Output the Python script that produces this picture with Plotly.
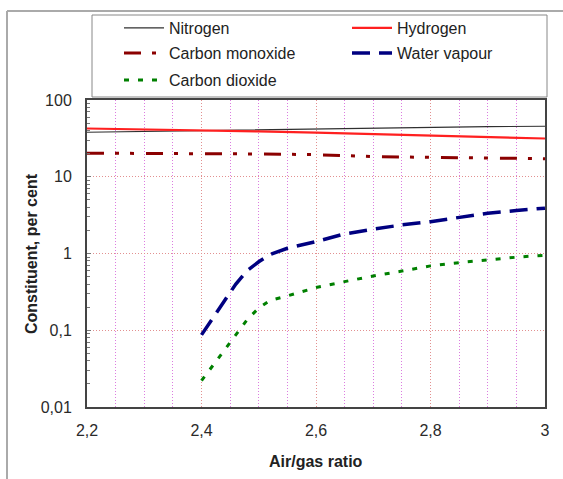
import plotly.graph_objects as go

# ---- data ----
x_full = [2.2, 2.3, 2.4, 2.5, 2.6, 2.7, 2.8, 2.9, 3.0]
nitrogen = [38.0, 39.0, 40.0, 41.0, 42.0, 43.0, 44.0, 45.0, 45.5]
hydrogen = [42.5, 41.5, 40.5, 39.0, 37.5, 36.0, 34.5, 33.0, 31.5]
carbon_monoxide = [20.3, 20.2, 20.0, 19.8, 19.4, 18.3, 17.9, 17.6, 17.2]

x_part = [2.4, 2.42, 2.44, 2.46, 2.48, 2.5, 2.52, 2.55, 2.6, 2.65, 2.7, 2.75,
          2.8, 2.85, 2.9, 2.95, 3.0]
water_vapour = [0.087, 0.145, 0.24, 0.4, 0.6, 0.78, 0.97, 1.17, 1.43, 1.8,
                2.07, 2.36, 2.6, 2.97, 3.35, 3.63, 3.9]
carbon_dioxide = [0.022, 0.035, 0.056, 0.089, 0.138, 0.195, 0.245, 0.28, 0.36,
                  0.43, 0.51, 0.59, 0.69, 0.76, 0.83, 0.895, 0.95]

x_ticks = [2.2, 2.4, 2.6, 2.8, 3.0]
x_ticktext = ["2,2", "2,4", "2,6", "2,8", "3"]
y_ticks = [0.01, 0.1, 1, 10, 100]
y_ticktext = ["0,01", "0,1", "1", "10", "100"]

# ---- layout geometry (pixels) ----
W, H = 563, 479
L, R, T, B = 87, 545, 100, 407
pw, ph = R - L, B - T

def px(xp):
    return (xp - L) / pw

def py(yp):
    return (B - yp) / ph

FONT = "Liberation Sans, Arial, sans-serif"

fig = go.Figure()
fig.add_trace(go.Scatter(x=x_full, y=nitrogen, mode="lines", name="Nitrogen",
                         line=dict(color="#303030", width=1.2), legend="legend"))
fig.add_trace(go.Scatter(x=x_full, y=hydrogen, mode="lines", name="Hydrogen",
                         line=dict(color="#ff2020", width=2.2), legend="legend"))
fig.add_trace(go.Scatter(x=x_full, y=carbon_monoxide, mode="lines", name="Carbon monoxide",
                         line=dict(color="#8b0000", width=3,
                                   dash="17px,11px,4px,11px,4px,12px"), legend="legend2"))
fig.add_trace(go.Scatter(x=x_part, y=water_vapour, mode="lines", name="Water vapour",
                         line=dict(color="#000080", width=3.5, dash="18px,9px"),
                         legend="legend2"))
fig.add_trace(go.Scatter(x=x_part, y=carbon_dioxide, mode="lines", name="Carbon dioxide",
                         line=dict(color="#008000", width=3, dash="5px,9px"),
                         legend="legend3"))

leg_common = dict(orientation="h", xanchor="left", yanchor="middle",
                  bgcolor="rgba(0,0,0,0)", borderwidth=0,
                  font=dict(family=FONT, size=16, color="#222"),
                  itemwidth=40, entrywidth=173, entrywidthmode="pixels",
                  itemclick=False, itemdoubleclick=False)

fig.update_layout(
    width=W, height=H,
    margin=dict(l=L, r=W - R, t=T, b=H - B, pad=0, autoexpand=False),
    paper_bgcolor="white", plot_bgcolor="white",
    showlegend=True,
    legend=dict(x=px(119), y=py(28), **leg_common),
    legend2=dict(x=px(119), y=py(53), **leg_common),
    legend3=dict(x=px(119), y=py(80), **leg_common),
    font=dict(family=FONT, size=16, color="#222"),
    xaxis=dict(
        range=[2.2, 3.0], tickvals=x_ticks, ticktext=x_ticktext,
        showgrid=True, gridcolor="#e29090", griddash="1px,2px", gridwidth=1,
        minor=dict(dtick=0.05, showgrid=True, gridcolor="#dc7ce0", griddash="1px,2px",
                   gridwidth=1, ticks=""),
        showline=True, linecolor="#444", linewidth=2, mirror=True,
        ticks="", zeroline=False, tickfont=dict(size=16, color="#2a2a2a"),
        ticklabelstandoff=8,
    ),
    yaxis=dict(
        type="log", range=[-2, 2], tickvals=y_ticks, ticktext=y_ticktext,
        showgrid=True, gridcolor="#e29090", griddash="1px,2px", gridwidth=1,
        minor=dict(ticks="inside", ticklen=3, tickcolor="#777", showgrid=False,
                   dtick="D1"),
        showline=True, linecolor="#444", linewidth=2, mirror=True,
        ticks="inside", ticklen=4, tickcolor="#777", zeroline=False,
        tickfont=dict(size=16, color="#2a2a2a"), ticklabelstandoff=10,
    ),
    shapes=[
        # outer chart frame (left and top edges)
        dict(type="line", xref="paper", yref="paper", x0=px(7), x1=px(563),
             y0=py(11), y1=py(11), line=dict(color="#aaaaaa", width=2)),
        dict(type="line", xref="paper", yref="paper", x0=px(7), x1=px(7),
             y0=py(11), y1=py(479), line=dict(color="#aaaaaa", width=2)),
        # legend box
        dict(type="rect", xref="paper", yref="paper", x0=px(92), x1=px(547),
             y0=py(97), y1=py(15), line=dict(color="#888888", width=1)),
    ],
    annotations=[
        dict(text="<b>Air/gas ratio</b>", xref="paper", yref="paper",
             x=px(316), y=py(461), showarrow=False, xanchor="center", yanchor="middle",
             font=dict(family=FONT, size=16, color="#222")),
        dict(text="<b>Constituent, per cent</b>", xref="paper", yref="paper",
             x=px(31), y=py(254), showarrow=False, textangle=-90,
             xanchor="center", yanchor="middle",
             font=dict(family=FONT, size=16, color="#222")),
    ],
)

fig.write_html("out.html")
